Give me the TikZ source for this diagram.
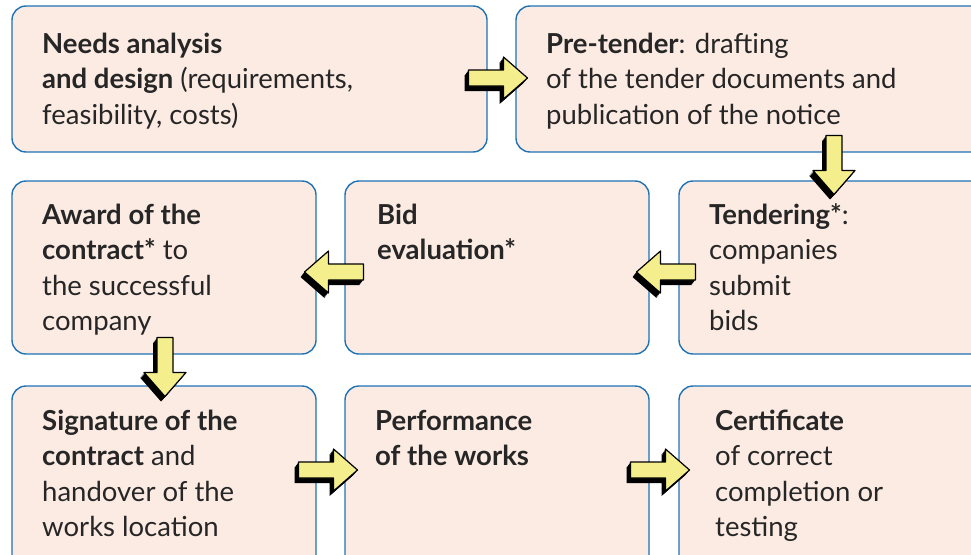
\documentclass[tikz,border=0pt]{standalone}
\usepackage{fontspec}
\setmainfont{Lato}
\usetikzlibrary{calc}
\definecolor{boxfill}{HTML}{FCEBE3}
\definecolor{boxline}{HTML}{1E73B7}
\definecolor{arrfill}{HTML}{F4EF8C}
\definecolor{txt}{HTML}{262626}
\tikzset{
  box/.style={draw=boxline, fill=boxfill, line width=1.4pt, rounded corners=14pt, inner sep=0pt, rectangle},
  boxtext/.style={anchor=base west, align=left, inner sep=0pt, text=txt, font=\fontsize{27.5}{35.5}\selectfont},
  arrowbody/.style={draw=black, fill=arrfill, line width=1.2pt, line join=round},
}
\newcommand\blockarr[2]{%
  \foreach \k in {1,...,5}{%
    \fill[black, line join=round, shift={#1}, shift={(-0.8*\k,1.0*\k)}, rotate=#2]
      (29.5,0) -- (5.5,-21) -- (5.5,-8) -- (-29.5,-8) -- (-29.5,8) -- (5.5,8) -- (5.5,21) -- cycle;}
  \draw[arrowbody, shift={#1}, rotate=#2]
      (29.5,0) -- (5.5,-21) -- (5.5,-8) -- (-29.5,-8) -- (-29.5,8) -- (5.5,8) -- (5.5,21) -- cycle;
}
\begin{document}
\begin{tikzpicture}[x=1pt, y=-1pt]
  \useasboundingbox (0,0) rectangle (971,554);
  \fill[white] (0,0) rectangle (971,554);
  \clip (0,0) rectangle (971,554);
  % boxes
  \node[box, minimum width=475, minimum height=146] (b1) at (249.5,79) {};
  \node[box, minimum width=474, minimum height=146] (b2) at (753,79) {};
  \node[box, minimum width=304, minimum height=173] (b3) at (164,267.5) {};
  \node[box, minimum width=304, minimum height=173] (b4) at (497,267.5) {};
  \node[box, minimum width=311, minimum height=173] (b5) at (834.5,267.5) {};
  \node[box, minimum width=304, minimum height=194] (b6) at (164,483) {};
  \node[box, minimum width=304, minimum height=194] (b7) at (497,483) {};
  \node[box, minimum width=311, minimum height=194] (b8) at (834.5,483) {};
  % texts (anchored at the baseline of the last line)
  \node[boxtext] (t1) at (42,124) {\textbf{Needs analysis}\\\textbf{and design} (requirements,\\feasibility, costs)};
  \node[boxtext] (t2) at (546,124) {\textbf{Pre-tender}: drafting\\of the tender documents and\\publication of the notice};
  \node[boxtext] (t3) at (42,330.5) {\textbf{Award of the}\\\textbf{contract*} to\\the successful\\company};
  \node[boxtext] (t4) at (377,259.5) {\textbf{Bid}\\\textbf{evaluation*}};
  \node[boxtext] (t5) at (709,330.5) {\textbf{Tendering*}:\\companies\\submit\\bids};
  \node[boxtext] (t6) at (42,536.5) {\textbf{Signature of the}\\\textbf{contract} and\\handover of the\\works location};
  \node[boxtext] (t7) at (375,465.5) {\textbf{Performance}\\\textbf{of the works}};
  \node[boxtext] (t8) at (715,536.5) {\textbf{Certificate}\\of correct\\completion or\\testing};
  % arrows
  \blockarr{(498,78)}{0}
  \blockarr{(834,165)}{-90}
  \blockarr{(666,272)}{180}
  \blockarr{(334,272)}{180}
  \blockarr{(165,367)}{-90}
  \blockarr{(328,470)}{0}
  \blockarr{(660,470)}{0}
\end{tikzpicture}
\end{document}
